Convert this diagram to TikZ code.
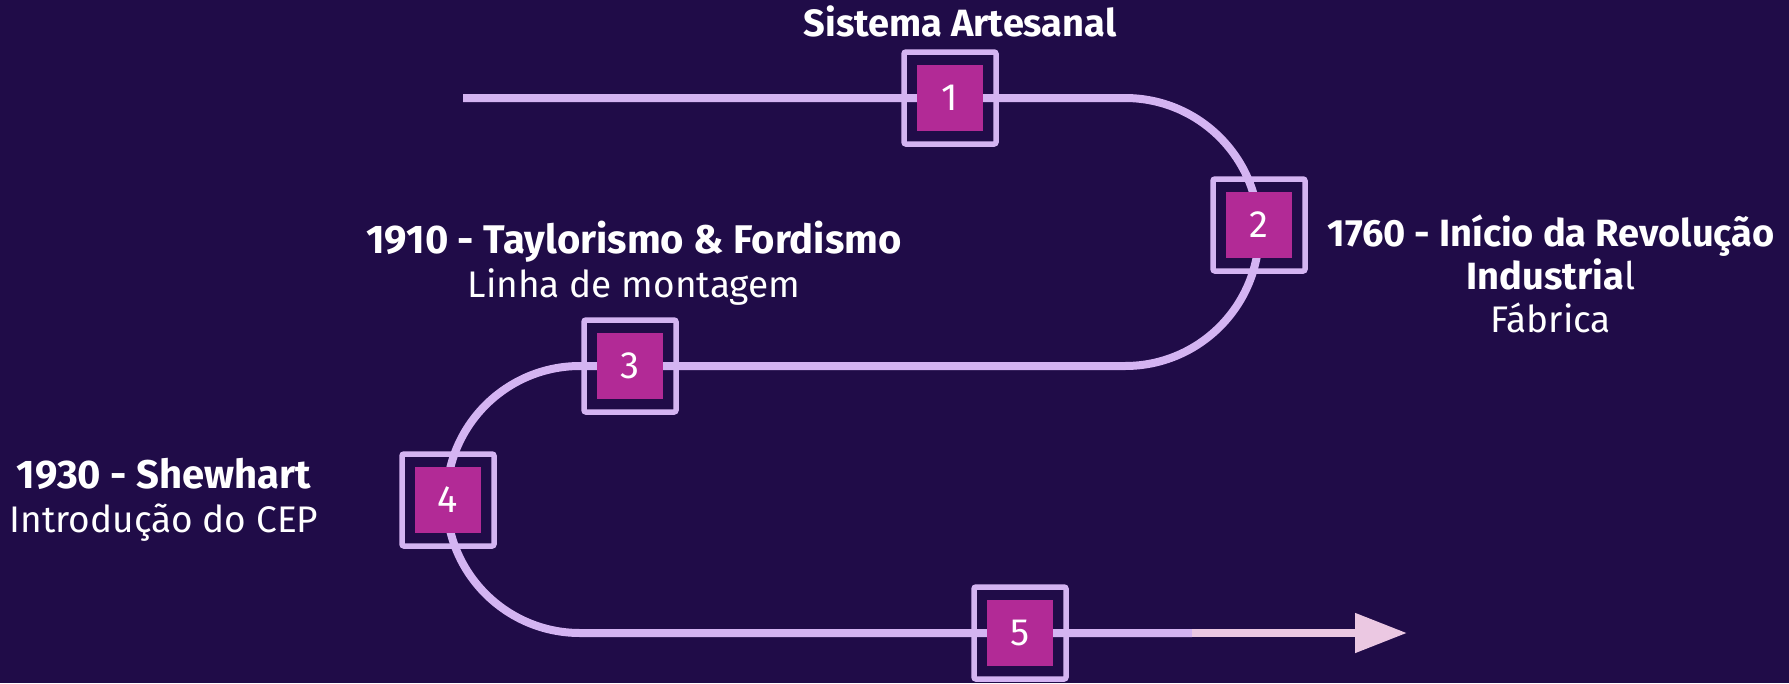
\documentclass[tikz,border=0pt]{standalone}
\usepackage{fontspec}
\setmainfont{Fira Sans}
\usetikzlibrary{arrows.meta}
\definecolor{bg}{HTML}{200C48}
\definecolor{trackcol}{HTML}{D4B4F2}
\definecolor{boxfill}{HTML}{B22A96}
\definecolor{tippink}{HTML}{EBC8E2}
\newcommand{\bigbold}{\fontsize{40}{44}\selectfont\bfseries}
\newcommand{\midbold}{\fontsize{38}{43}\selectfont\bfseries}
\newcommand{\plainline}{\fontsize{37}{44}\selectfont\mdseries}
\begin{document}
\begin{tikzpicture}[x=1pt,y=-1pt,
  frame/.style={draw=trackcol, line width=5.5pt, rounded corners=2pt, minimum size=92pt, inner sep=0pt},
  numbox/.style={fill=boxfill, text=white, minimum size=66pt, inner sep=0pt, font=\fontsize{38}{44}\selectfont},
  trackline/.style={draw=trackcol, line width=8pt},
  tipline/.style={draw=tippink, fill=tippink, line width=8pt, -{Triangle[length=52pt,width=38pt]}},
  txt/.style={text=white, align=center, anchor=base, inner sep=0pt},
]
\fill[bg] (0,0) rectangle (1789,683);
\useasboundingbox (0,0) rectangle (1789,683);

\coordinate (s) at (463,98);
\coordinate (a1) at (1125,98);
\coordinate (a3) at (580,366);
\coordinate (c) at (1192,633);
\coordinate (tip) at (1407,633);

\draw[trackline] (s) -- (a1) arc[start angle=-90, end angle=90, radius=134]
  -- (a3) arc[start angle=-90, end angle=-270, radius=133.5] -- (c);
\draw[tipline] (c) -- (tip);

\foreach \n/\p in {1/{(950,98)}, 2/{(1259,225)}, 3/{(630,366)}, 4/{(448,500)}, 5/{(1020,633)}}{
  \node[frame] (f\n) at \p {};
  \node[numbox] (b\n) at \p {\n};
}

\node[txt, font=\midbold] (t1) at (960,36) {Sistema Artesanal};
\node[txt, font=\midbold] (t2) at (1551,332) {1760 - Início da Revolução\\ Industria{\mdseries l}\\ \fontsize{37}{42}\selectfont\mdseries Fábrica};
\node[txt, font=\bigbold] (t3) at (634,297) {1910 - Taylorismo \& Fordismo\\ \plainline Linha de montagem};
\node[txt, font=\bigbold] (t4) at (164,532) {1930 - Shewhart\\ \plainline Introdução do CEP};
\end{tikzpicture}
\end{document}
